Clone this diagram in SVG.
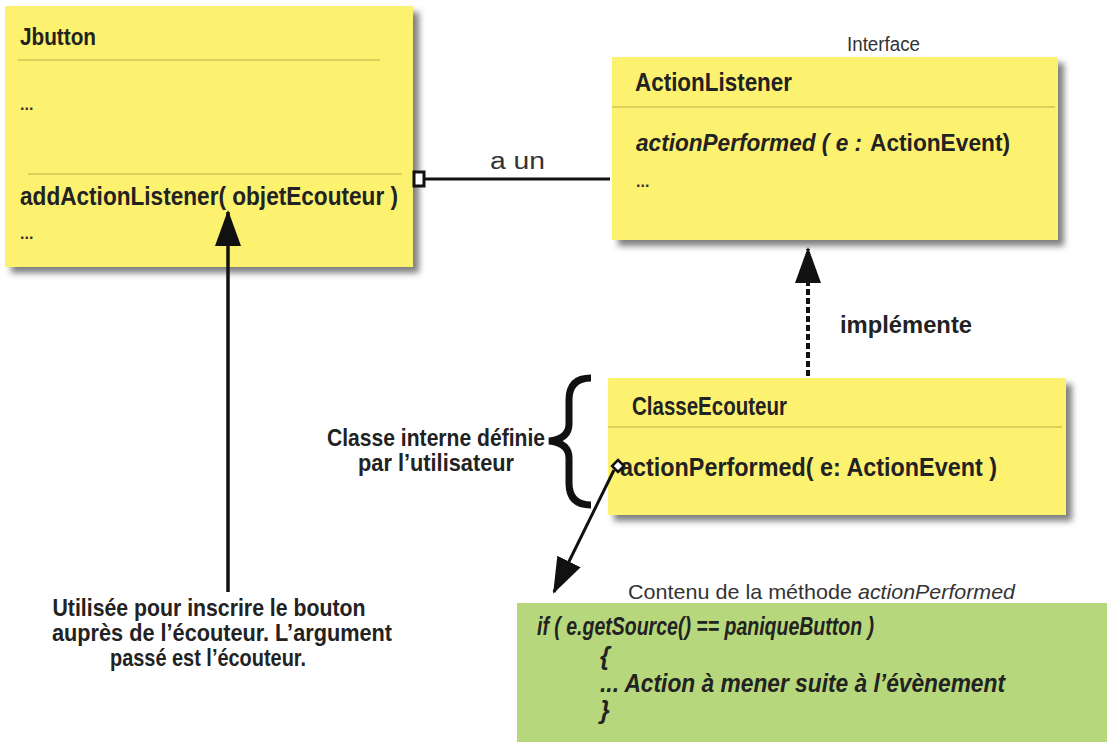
<svg xmlns="http://www.w3.org/2000/svg" width="1107" height="742" viewBox="0 0 1107 742">
<defs>
<filter id="sh" x="-5%" y="-5%" width="115%" height="120%">
<feDropShadow dx="6" dy="6" stdDeviation="3" flood-color="#555" flood-opacity="0.75"/>
</filter>
<marker id="ah" markerUnits="userSpaceOnUse" markerWidth="36" markerHeight="26" refX="34" refY="13" viewBox="0 0 36 26" orient="auto">
<path d="M0,0 L36,13 L0,26 Z" fill="#111"/>
</marker>
</defs>
<style>
.box{fill:#fdf26f;filter:url(#sh)}
.sep{stroke:#b9ad44;stroke-width:1.2}
.t{font-family:"Liberation Sans",Arial,sans-serif;fill:#222;font-weight:bold}
.r{font-family:"Liberation Sans",Arial,sans-serif;fill:#333}
.ln{stroke:#111;fill:none}
</style>
<rect width="1107" height="742" fill="#fff"/>
<g id="jbutton">
<rect class="box" x="5" y="6" width="408" height="261"/>
<text class="t" x="20" y="45" font-size="24" textLength="76" lengthAdjust="spacingAndGlyphs">Jbutton</text>
<line class="sep" x1="18" y1="60" x2="380" y2="60"/>
<text class="r" x="20" y="110" font-size="16" font-weight="bold">...</text>
<line class="sep" x1="28" y1="174" x2="402" y2="174"/>
<text class="t" x="20" y="205" font-size="26" textLength="378" lengthAdjust="spacingAndGlyphs">addActionListener( objetEcouteur )</text>
<text class="r" x="20" y="239" font-size="16" font-weight="bold">...</text>
</g>
<g id="actionlistener">
<rect class="box" x="612" y="57" width="446" height="183"/>
<text class="r" x="847" y="51" font-size="20" textLength="73" lengthAdjust="spacingAndGlyphs">Interface</text>
<text class="t" x="635" y="91" font-size="25" textLength="157" lengthAdjust="spacingAndGlyphs">ActionListener</text>
<line class="sep" x1="612" y1="107" x2="1055" y2="107"/>
<text class="t" x="636" y="151" font-size="23" font-style="italic" textLength="226" lengthAdjust="spacingAndGlyphs">actionPerformed ( e :</text>
<text class="t" x="870" y="151" font-size="23" textLength="140" lengthAdjust="spacingAndGlyphs">ActionEvent)</text>
<text class="r" x="636" y="187" font-size="16" font-weight="bold">...</text>
</g>
<g id="classeecouteur">
<rect class="box" x="608" y="378" width="458" height="137"/>
<text class="t" x="632" y="415" font-size="25" textLength="155" lengthAdjust="spacingAndGlyphs">ClasseEcouteur</text>
<line class="sep" x1="608" y1="427" x2="1062" y2="427"/>
<text class="t" x="620" y="476" font-size="26" textLength="377" lengthAdjust="spacingAndGlyphs">actionPerformed( e: ActionEvent )</text>
</g>
<g id="contenu">
<rect x="517" y="603" width="590" height="139" fill="#b7d77c"/>
<text class="r" x="628" y="599" font-size="21" textLength="224" lengthAdjust="spacingAndGlyphs">Contenu de la méthode</text>
<text class="r" x="858" y="599" font-size="21" font-style="italic" textLength="157" lengthAdjust="spacingAndGlyphs">actionPerformed</text>
<g class="t" font-style="italic" font-size="25">
<text x="537" y="635" textLength="337" lengthAdjust="spacingAndGlyphs">if ( e.getSource() == paniqueButton )</text>
<text x="600" y="665">{</text>
<text x="600" y="692" textLength="405" lengthAdjust="spacingAndGlyphs">... Action à mener suite à l’évènement</text>
<text x="600" y="719">}</text>
</g>
</g>
<g id="notes">
<path d="M591,378 Q569,378 569,400 L569,424 Q569,439 549,441 Q569,443 569,458 L569,483 Q569,505 591,505" class="ln" stroke-width="7"/>
<text class="t" x="436" y="446" font-size="24" text-anchor="middle" textLength="218" lengthAdjust="spacingAndGlyphs">Classe interne définie</text>
<text class="t" x="436" y="471" font-size="24" text-anchor="middle" textLength="156" lengthAdjust="spacingAndGlyphs">par l’utilisateur</text>
<text class="t" x="209" y="616" font-size="24" text-anchor="middle" textLength="313" lengthAdjust="spacingAndGlyphs">Utilisée pour inscrire le bouton</text>
<text class="t" x="222" y="641" font-size="24" text-anchor="middle" textLength="340" lengthAdjust="spacingAndGlyphs">auprès de l’écouteur. L’argument</text>
<text class="t" x="208" y="666" font-size="24" text-anchor="middle" textLength="196" lengthAdjust="spacingAndGlyphs">passé est l’écouteur.</text>
</g>
<g id="connectors">
<line class="ln" x1="421" y1="179" x2="610" y2="179" stroke-width="3"/>
<rect x="414" y="172" width="10" height="14" fill="#fff" stroke="#111" stroke-width="3"/>
<text class="r" x="490" y="169" font-size="23" fill="#111" textLength="55" lengthAdjust="spacingAndGlyphs">a un</text>
<line class="ln" x1="228" y1="592" x2="228" y2="212" stroke-width="3.5" marker-end="url(#ah)"/>
<line class="ln" x1="808" y1="376" x2="808" y2="249" stroke-width="4" stroke-dasharray="6,3" marker-end="url(#ah)"/>
<text class="t" x="840" y="333" font-size="24" textLength="132" lengthAdjust="spacingAndGlyphs">implémente</text>
<line class="ln" x1="614" y1="470" x2="554" y2="592" stroke-width="3" marker-end="url(#ah)"/>
<path d="M618,460 L624,466 L618,472 L612,466 Z" fill="#fff" stroke="#111" stroke-width="2.5"/>
</g>
</svg>
